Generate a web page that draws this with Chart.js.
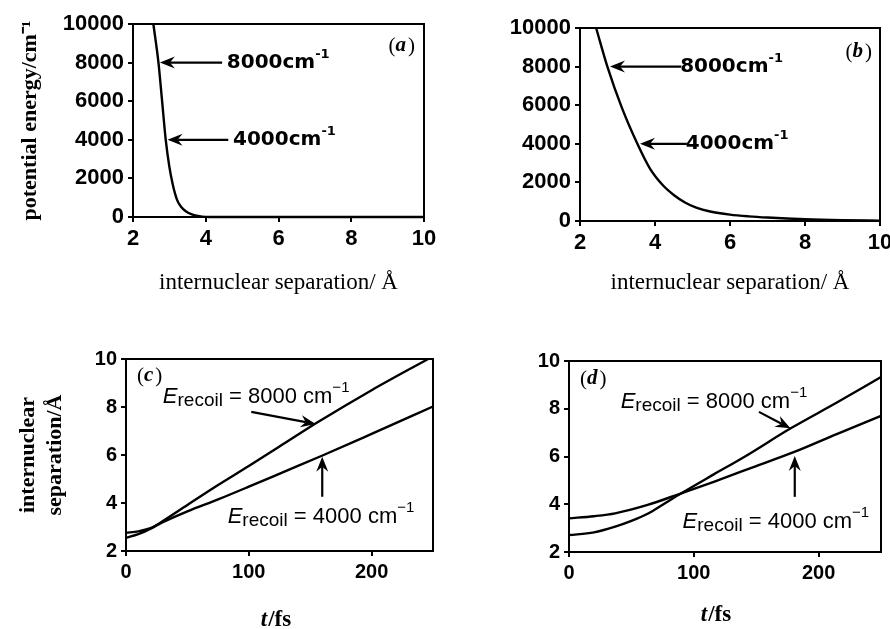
<!DOCTYPE html>
<html>
<head>
<meta charset="utf-8">
<script src="https://cdn.jsdelivr.net/npm/chart.js@4"></script>
<style>
  html, body { margin: 0; padding: 0; background: #ffffff; }
  #wrap { position: relative; width: 890px; height: 629px; background: #fff; }
  canvas { position: absolute; }
</style>
</head>
<body>
<div id="wrap">
  <canvas id="pa" width="445" height="300" style="left:0px;top:0px"></canvas>
  <canvas id="pb" width="445" height="300" style="left:445px;top:0px"></canvas>
  <canvas id="pc" width="445" height="329" style="left:0px;top:300px"></canvas>
  <canvas id="pd" width="445" height="329" style="left:445px;top:300px"></canvas>
</div>
<script>
// ---------------- DATA ----------------
// (a) potential energy vs internuclear separation
const sepA    = [2.56, 2.70, 2.80, 2.90, 3.00, 3.08, 3.15, 3.22, 3.32, 3.45, 3.60, 3.75, 3.90, 4.10, 5, 6, 7, 8, 9, 10];
const energyA = [10000, 8000, 6000, 4000, 2600, 1800, 1250, 850, 530, 300, 150, 70, 20, 0, 0, 0, 0, 0, 0, 0];
// (b)
const sepB    = [2.43, 2.73, 3.11, 3.53, 3.87, 4.21, 4.50, 4.80, 5.10, 5.47, 6.00, 6.50, 7.00, 8.00, 9.00, 10.00];
const energyB = [10000, 8000, 5900, 4000, 2700, 1850, 1350, 960, 690, 490, 330, 240, 178, 90, 42, 18];
// (c) internuclear separation vs time
const timeC8000 = [0, 10, 20, 30, 50, 75, 100, 125, 155, 200, 246];
const sepC8000  = [2.55, 2.70, 2.93, 3.25, 3.92, 4.75, 5.54, 6.35, 7.33, 8.70, 10.0];
const timeC4000 = [0, 10, 20, 30, 50, 75, 100, 130, 160, 200, 250];
const sepC4000  = [2.76, 2.82, 2.95, 3.20, 3.65, 4.15, 4.68, 5.33, 5.98, 6.88, 8.02];
// (d)
const timeD8000 = [0, 20, 37, 50, 63, 75, 90, 116, 140, 178, 215, 250];
const sepD8000  = [2.71, 2.82, 3.06, 3.30, 3.60, 3.98, 4.46, 5.25, 5.97, 7.19, 8.27, 9.33];
const timeD4000 = [0, 20, 37, 63, 90, 116, 150, 180, 215, 250];
const sepD4000  = [3.41, 3.50, 3.62, 3.97, 4.46, 4.94, 5.60, 6.18, 6.95, 7.70];

// tick values
const sepTicks    = [2, 4, 6, 8, 10];
const energyTicks = [0, 2000, 4000, 6000, 8000, 10000];
const timeTicks   = [0, 100, 200];
const sepYTicks   = [2, 4, 6, 8, 10];

// text
const energyTitle = 'potential energy/cm\u207B\u00B9';
const sepTitle = 'internuclear separation/ \u00C5';
const sepTitle2 = ['internuclear', 'separation/\u00C5'];
const recoilLevels = ['8000', '4000'];

// ---------------- HELPERS ----------------
function pts(xs, ys) { return xs.map((x, i) => ({ x: x, y: ys[i] })); }

function richWidth(ctx, segs) {
  let w = 0;
  segs.forEach(s => { ctx.font = s.font; w += ctx.measureText(s.t).width + (s.gap || 0); });
  return w;
}
function drawRich(ctx, segs, x, y, align, baseline) {
  ctx.save();
  ctx.fillStyle = '#000';
  ctx.textBaseline = baseline || 'alphabetic';
  ctx.textAlign = 'left';
  const w = richWidth(ctx, segs);
  let cx = align === 'right' ? x - w : (align === 'center' ? x - w / 2 : x);
  segs.forEach(s => {
    ctx.font = s.font;
    ctx.fillText(s.t, cx, y + (s.dy || 0));
    cx += ctx.measureText(s.t).width + (s.gap || 0);
  });
  ctx.restore();
}
function arrow(ctx, x1, y1, x2, y2) {
  const a = Math.atan2(y2 - y1, x2 - x1);
  const L = 15, W = 6, N = 10;
  const c = Math.cos(a), s = Math.sin(a);
  const bx = x2 - L * c, by = y2 - L * s;
  ctx.save();
  ctx.strokeStyle = '#000'; ctx.fillStyle = '#000';
  ctx.lineWidth = 2.2;
  ctx.beginPath(); ctx.moveTo(x1, y1); ctx.lineTo(x2 - N * c, y2 - N * s); ctx.stroke();
  ctx.beginPath();
  ctx.moveTo(x2, y2);
  ctx.lineTo(bx - W * s, by + W * c);
  ctx.lineTo(x2 - N * c, y2 - N * s);
  ctx.lineTo(bx + W * s, by - W * c);
  ctx.closePath(); ctx.fill();
  ctx.restore();
}

const framePlugin = {
  id: 'frame',
  afterDatasetsDraw(chart) {
    const { ctx, chartArea: a } = chart;
    ctx.save();
    ctx.strokeStyle = '#000'; ctx.lineWidth = 2;
    ctx.strokeRect(a.left, a.top, a.right - a.left, a.bottom - a.top);
    ctx.restore();
  }
};

function makeChart(id, geo, datasets, xs, ys, extraDraw) {
  const canvas = document.getElementById(id);
  const W = canvas.width, H = canvas.height;
  const tickFont = { family: 'Liberation Sans', weight: 'bold', size: geo.tickSize };
  const gridCfg = { display: true, drawOnChartArea: false, drawTicks: true, tickLength: 5, color: '#000', lineWidth: 2 };
  const borderCfg = { display: true, color: '#000', width: 2 };
  return new Chart(canvas, {
    type: 'line',
    data: {
      datasets: datasets.map(d => ({
        data: d, borderColor: '#000', borderWidth: 2.4, pointRadius: 0,
        fill: false, cubicInterpolationMode: 'monotone', clip: 3
      }))
    },
    options: {
      responsive: false, animation: false,
      layout: { padding: { left: 0, top: geo.top, right: W - geo.right, bottom: 0 } },
      plugins: { legend: { display: false }, tooltip: { enabled: false } },
      scales: {
        x: {
          type: 'linear', min: xs.min, max: xs.max,
          afterBuildTicks: s => { s.ticks = xs.ticks.map(v => ({ value: v })); },
          ticks: { font: tickFont, color: '#000', padding: 4, autoSkip: false, maxRotation: 0,
                   callback: v => String(v) },
          grid: gridCfg, border: borderCfg,
          title: xs.title ? { display: true, text: xs.title, color: '#000',
            font: { family: 'Liberation Serif', size: 23 }, padding: { top: 0, bottom: 3 } } : { display: false },
          afterFit: s => { s.height = H - geo.bottom; s.paddingLeft = 0; s.paddingRight = 0; }
        },
        y: {
          type: 'linear', min: ys.min, max: ys.max,
          afterBuildTicks: s => { s.ticks = ys.ticks.map(v => ({ value: v })); },
          ticks: { font: tickFont, color: '#000', padding: 4, autoSkip: false,
                   callback: v => String(v) },
          grid: gridCfg, border: borderCfg,
          title: ys.title ? { display: true, text: ys.title, color: '#000',
            font: { family: 'Liberation Serif', size: 22, weight: 'bold', lineHeight: ys.lh || 1.2 },
            padding: { top: ys.tpad, bottom: 0 } } : { display: false },
          afterFit: s => { s.width = geo.left; s.paddingTop = 0; s.paddingBottom = 0; }
        }
      }
    },
    plugins: [framePlugin, { id: 'notes', afterDraw: chart => extraDraw(chart) }]
  });
}

// annotation drawing for (a),(b)
const capFont = 'bold 20px "DejaVu Sans"';
const supFont = 'bold 13px "DejaVu Sans"';
function energyNotes(chart, notes, letter, lx, ly) {
  const { ctx, scales: { x, y }, chartArea: a } = chart;
  notes.forEach(n => {
    arrow(ctx, x.getPixelForValue(n.tail), y.getPixelForValue(n.level),
               x.getPixelForValue(n.tip), y.getPixelForValue(n.level));
    drawRich(ctx, [{ t: n.label + 'cm', font: capFont }, { t: '-1', font: supFont, dy: -8 }],
      x.getPixelForValue(n.text), y.getPixelForValue(n.level), 'left', 'middle');
  });
  drawRich(ctx, [{ t: '(', font: '21px "Liberation Serif"' },
                 { t: letter, font: 'italic bold 21px "Liberation Serif"', gap: 2 },
                 { t: ')', font: '21px "Liberation Serif"' }], a.right - lx, a.top + ly, 'right', 'middle');
}
const recMain = '22px "Liberation Sans"';
function recoilNotes(chart, notes, letter, lx, ly, tcx, tcy) {
  const { ctx, scales: { x, y }, chartArea: a } = chart;
  notes.forEach(n => {
    arrow(ctx, x.getPixelForValue(n.tail[0]), y.getPixelForValue(n.tail[1]),
               x.getPixelForValue(n.tip[0]), y.getPixelForValue(n.tip[1]));
    drawRich(ctx, [
      { t: 'E', font: 'italic ' + recMain },
      { t: 'recoil', font: '19px "Liberation Sans"', dy: 3 },
      { t: ' = ' + n.label + ' cm', font: recMain },
      { t: '\u22121', font: '15px "Liberation Sans"', dy: -11 }
    ], x.getPixelForValue(n.text[0]), y.getPixelForValue(n.text[1]), 'left', 'alphabetic');
  });
  drawRich(ctx, [{ t: '(', font: '21px "Liberation Serif"' },
                 { t: letter, font: 'italic bold 21px "Liberation Serif"', gap: 2 },
                 { t: ')', font: '21px "Liberation Serif"' }], a.left + lx, a.top + ly, 'left', 'middle');
  drawRich(ctx, [{ t: 't', font: 'italic bold 23px "Liberation Serif"', gap: 1 },
                 { t: '/fs', font: 'bold 23px "Liberation Serif"' }], tcx, tcy, 'center', 'middle');
}

// ---------------- CHARTS ----------------
makeChart('pa', { left: 133, right: 424, top: 24, bottom: 217, tickSize: 22 },
  [pts(sepA, energyA)],
  { min: 2, max: 10, ticks: sepTicks, title: sepTitle },
  { min: 0, max: 10000, ticks: energyTicks, title: energyTitle, tpad: 17 },
  chart => energyNotes(chart, [
    { label: recoilLevels[0], level: 8000, tip: 2.74, tail: 4.45, text: 4.58 },
    { label: recoilLevels[1], level: 4000, tip: 2.95, tail: 4.62, text: 4.75 }
  ], 'a', 9, 22));

makeChart('pb', { left: 135, right: 435, top: 28, bottom: 221, tickSize: 22 },
  [pts(sepB, energyB)],
  { min: 2, max: 10, ticks: sepTicks, title: sepTitle },
  { min: 0, max: 10000, ticks: energyTicks },
  chart => energyNotes(chart, [
    { label: recoilLevels[0], level: 8000, tip: 2.80, tail: 4.70, text: 4.67 },
    { label: recoilLevels[1], level: 4000, tip: 3.60, tail: 4.85, text: 4.82 }
  ], 'b', 8, 24));

makeChart('pc', { left: 126, right: 433, top: 59, bottom: 251, tickSize: 20 },
  [pts(timeC8000, sepC8000), pts(timeC4000, sepC4000)],
  { min: 0, max: 250, ticks: timeTicks },
  { min: 2, max: 10, ticks: sepYTicks, title: sepTitle2, tpad: 14.5, lh: 1.23 },
  chart => recoilNotes(chart, [
    { label: recoilLevels[0], text: [30, 8.15], tail: [102, 7.8], tip: [154.4, 7.29] },
    { label: recoilLevels[1], text: [82.8, 3.15], tail: [159.8, 4.26], tip: [159.8, 5.93] }
  ], 'c', 11, 17, 276, 320));

makeChart('pd', { left: 124, right: 436, top: 61, bottom: 252, tickSize: 20 },
  [pts(timeD8000, sepD8000), pts(timeD4000, sepD4000)],
  { min: 0, max: 250, ticks: timeTicks },
  { min: 2, max: 10, ticks: sepYTicks },
  chart => recoilNotes(chart, [
    { label: recoilLevels[0], text: [41.4, 8.05], tail: [152.2, 7.87], tip: [177.4, 7.18] },
    { label: recoilLevels[1], text: [91, 2.99], tail: [180.9, 4.31], tip: [180.9, 6.02] }
  ], 'd', 11, 18, 271, 315));
</script>
</body>
</html>
